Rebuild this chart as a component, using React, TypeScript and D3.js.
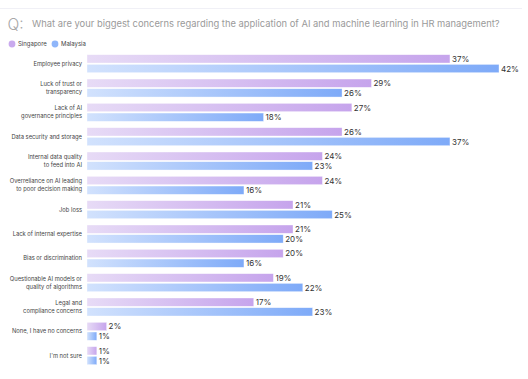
import React from "react";
import * as d3 from "d3";

const categories: string[][] = [
  ["Employee privacy"],
  ["Luck of trust or", "transparency"],
  ["Lack of AI", "governance principles"],
  ["Data security and storage"],
  ["Internal data quality", "to feed into AI"],
  ["Overreliance on AI leading", "to poor decision making"],
  ["Job loss"],
  ["Lack of internal expertise"],
  ["Bias or discrimination"],
  ["Questionable AI models or", "quality of algorithms"],
  ["Legal and", "compliance concerns"],
  ["None, I have no concerns"],
  ["I'm not sure"],
];
const singapore = [37, 29, 27, 26, 24, 24, 21, 21, 20, 19, 17, 2, 1];
const malaysia = [42, 26, 18, 37, 23, 16, 25, 20, 16, 22, 23, 1, 1];
const seriesNames = ["Singapore", "Malaysia"];
const title = "What are your biggest concerns regarding the application of AI and machine learning in HR management?";

const W = 528;
const H = 379;
const FONT = "Inter, 'Noto Sans', sans-serif";

export default function App() {
  const x = d3.scaleLinear().domain([0, 42]).range([87, 499]);
  const y = d3
    .scaleBand<number>()
    .domain(d3.range(categories.length))
    .range([50.5, 50.5 + 24.33 * categories.length])
    .paddingInner(0)
    .paddingOuter(0);
  const barH = 8.3;
  const gap = 1.4;
  const groupOffset = 4.2;
  const series = [
    { name: seriesNames[0], values: singapore, grad: "gSg", dot: "#c9aaee" },
    { name: seriesNames[1], values: malaysia, grad: "gMy", dot: "#8fb6fa" },
  ];
  return (
    <svg
      width={W}
      height={H}
      style={{ position: "absolute", left: 0, top: 0, background: "#fff" }}
      fontFamily={FONT}
    >
      <defs>
        <linearGradient id="gSg" x1="0" x2="1" y1="0" y2="0">
          <stop offset="0" stopColor="#e7dbf6" />
          <stop offset="1" stopColor="#c6a4ec" />
        </linearGradient>
        <linearGradient id="gMy" x1="0" x2="1" y1="0" y2="0">
          <stop offset="0" stopColor="#d2e2fd" />
          <stop offset="1" stopColor="#7eaaf8" />
        </linearGradient>
      </defs>
      <line x1={0} x2={522} y1={8.5} y2={8.5} stroke="#f0f0f6" strokeWidth={1} />
      <text x={7.5} y={29.5} fontSize={15.5} fill="#a8a8a8" fontWeight={300}>
        Q:
      </text>
      <text x={32} y={27} fontSize={9.4} fill="#9a9a9a">
        {title}
      </text>
      {series.map((s, i) => (
        <g key={s.name} transform={`translate(${i === 0 ? 12 : 55},44)`}>
          <circle r={3.4} fill={s.dot} />
          <text x={6} y={2} fontSize={6} fill="#444">
            {s.name}
          </text>
        </g>
      ))}
      {categories.map((lines, i) => {
        const top = (y(i) as number) + groupOffset;
        const cy = top + barH + gap / 2;
        return (
          <g key={i}>
            {lines.map((ln, j) => (
              <text
                key={j}
                x={82}
                y={cy + (j - (lines.length - 1) / 2) * 8 + 2}
                fontSize={5.8}
                fill="#444"
                textAnchor="end"
              >
                {ln}
              </text>
            ))}
            {series.map((s, k) => {
              const by = top + k * (barH + gap);
              const v = s.values[i];
              return (
                <g key={s.name}>
                  <rect
                    x={x(0)}
                    y={by}
                    width={x(v) - x(0)}
                    height={barH}
                    fill={`url(#${s.grad})`}
                    stroke="#ffffff"
                    strokeOpacity={0.6}
                    strokeWidth={0.6}
                  />
                  <text
                    x={x(v) + 2}
                    y={by + barH / 2 + 3}
                    fontSize={8}
                    fill="#333"
                  >
                    {v}%
                  </text>
                </g>
              );
            })}
          </g>
        );
      })}
    </svg>
  );
}
